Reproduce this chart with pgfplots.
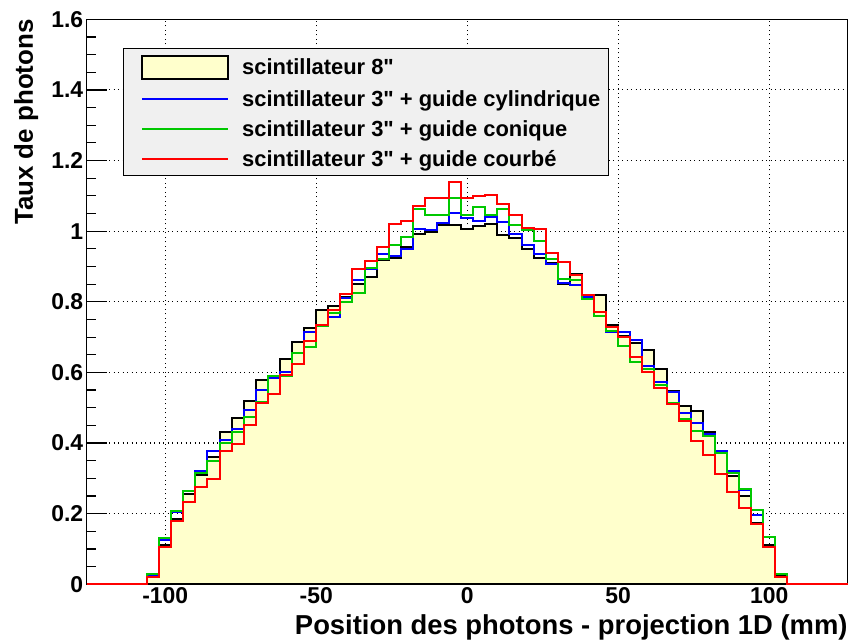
\documentclass[border=0pt]{standalone}
\usepackage{fontspec}
\setmainfont{Liberation Sans}
\newfontfamily\plainsans{Liberation Sans}
\usepackage{pgfplots}
\pgfplotsset{compat=1.18}
\usepackage{pgfplotstable}

\definecolor{histfill}{RGB}{255,255,204}
\definecolor{hblue}{RGB}{0,0,255}
\definecolor{hgreen}{RGB}{0,200,0}
\definecolor{hred}{RGB}{255,0,0}
\definecolor{legbg}{RGB}{240,240,240}

\pgfplotsset{
  boxlegend/.style={legend image code/.code={\path (0bp,0bp);
      \draw[##1] (12bp,-11.5bp) rectangle (98bp,11.5bp);}},
  linelegend/.style={legend image code/.code={\path (0bp,0bp);
      \draw[##1] (12bp,0bp) -- (98bp,0bp);}},
}

% left bin edge (4 mm bins), photon rate per series
\pgfplotstableread{
x black blue green red
-126 0 0 0 0
-122 0 0 0 0
-118 0 0 0 0
-114 0 0 0 0
-110 0 0 0 0
-106 0.020 0.025 0.030 0.022
-102 0.112 0.126 0.131 0.107
-98 0.186 0.206 0.208 0.178
-94 0.255 0.263 0.263 0.232
-90 0.310 0.320 0.314 0.275
-86 0.360 0.377 0.349 0.298
-82 0.430 0.410 0.401 0.377
-78 0.470 0.440 0.430 0.396
-74 0.520 0.495 0.475 0.450
-70 0.578 0.550 0.516 0.512
-66 0.590 0.583 0.590 0.538
-62 0.638 0.600 0.590 0.592
-58 0.687 0.654 0.654 0.624
-54 0.725 0.714 0.671 0.690
-50 0.777 0.735 0.732 0.734
-46 0.789 0.758 0.769 0.777
-42 0.813 0.810 0.799 0.821
-38 0.850 0.861 0.825 0.894
-34 0.870 0.892 0.896 0.915
-30 0.917 0.936 0.920 0.955
-26 0.925 0.930 0.962 1.020
-22 0.955 0.950 0.984 1.030
-18 0.993 1.007 1.064 1.072
-14 0.998 1.003 1.045 1.093
-10 1.017 1.024 1.045 1.093
-6 1.017 1.052 1.093 1.138
-2 1.005 1.036 1.045 1.093
2 1.015 1.028 1.069 1.100
6 1.019 1.041 1.045 1.102
10 0.988 1.026 1.062 1.077
14 0.981 0.993 1.017 1.045
18 0.950 0.960 1.003 1.008
22 0.924 0.936 0.971 1.006
26 0.910 0.907 0.922 0.938
30 0.851 0.853 0.865 0.912
34 0.880 0.848 0.861 0.875
38 0.808 0.813 0.808 0.820
42 0.818 0.770 0.761 0.770
46 0.734 0.714 0.718 0.730
50 0.702 0.714 0.674 0.700
54 0.682 0.693 0.630 0.645
58 0.664 0.617 0.609 0.600
62 0.609 0.573 0.564 0.555
66 0.548 0.545 0.513 0.510
70 0.505 0.485 0.467 0.462
74 0.491 0.456 0.434 0.406
78 0.430 0.425 0.420 0.365
82 0.372 0.377 0.372 0.311
86 0.306 0.320 0.316 0.261
90 0.251 0.268 0.270 0.216
94 0.175 0.197 0.211 0.171
98 0.112 0.135 0.135 0.107
102 0.025 0.030 0.029 0.022
106 0 0 0 0
110 0 0 0 0
114 0 0 0 0
118 0 0 0 0
122 0 0 0 0
126 0 0 0 0
}\histdata

\begin{document}
\begin{tikzpicture}
\useasboundingbox (-86.7bp,-58.7bp) rectangle (764.3bp,584.3bp);
\begin{axis}[
    at={(0,0)}, anchor=south west,
    width=761bp, height=565bp, scale only axis,
    xmin=-126, xmax=126, ymin=0, ymax=1.6,
    xtick={-100,-50,0,50,100},
    ytick={0,0.2,0.4,0.6,0.8,1,1.2,1.4,1.6},
    minor x tick num=4, minor y tick num=3,
    tick align=inside, xtick pos=bottom, ytick pos=left,
    major tick length=20bp, minor tick length=9bp,
    every tick/.style={black, line width=1.2bp},
    axis line style={line width=1.4bp},
    grid=major,
    major grid style={black, line width=1.1bp, dash pattern=on 1.2bp off 3.3bp},
    /pgf/number format/assume math mode=true,
    tick label style={font=\fontsize{23}{27}\selectfont\bfseries},
    xlabel={Position des photons - projection 1D (mm)},
    ylabel={Taux de photons},
    xlabel style={at={(rel axis cs:1,-0.0897)}, anchor=base east, inner sep=0pt,
                  font=\fontsize{27.5}{32}\selectfont\bfseries},
    ylabel style={at={(rel axis cs:-0.0706,1)}, anchor=base east, inner sep=0pt,
                  font=\fontsize{26}{30}\selectfont\bfseries},
    legend cell align=left,
    legend style={at={(0.0473,0.9487)}, anchor=north west, fill=legbg,
                  draw=black, line width=1bp, inner xsep=6bp, inner ysep=6bp,
                  row sep=8.5bp, /tikz/every odd column/.append style={column sep=11bp},
                  font=\plainsans\fontsize{22}{26}\selectfont\bfseries},
    clip=false,
]
\addplot[const plot, draw=black, line width=2bp, fill=histfill, boxlegend]
    table[x=x, y=black] {\histdata} \closedcycle;
\addlegendentry{scintillateur 8"}
\addplot[const plot, draw=hblue, line width=2bp, linelegend]
    table[x=x, y=blue] {\histdata};
\addlegendentry{scintillateur 3" + guide cylindrique}
\addplot[const plot, draw=hgreen, line width=2bp, linelegend]
    table[x=x, y=green] {\histdata};
\addlegendentry{scintillateur 3" + guide conique}
\addplot[const plot, draw=hred, line width=2bp, linelegend]
    table[x=x, y=red] {\histdata};
\addlegendentry{scintillateur 3" + guide courbé}
\end{axis}
\end{tikzpicture}
\end{document}
